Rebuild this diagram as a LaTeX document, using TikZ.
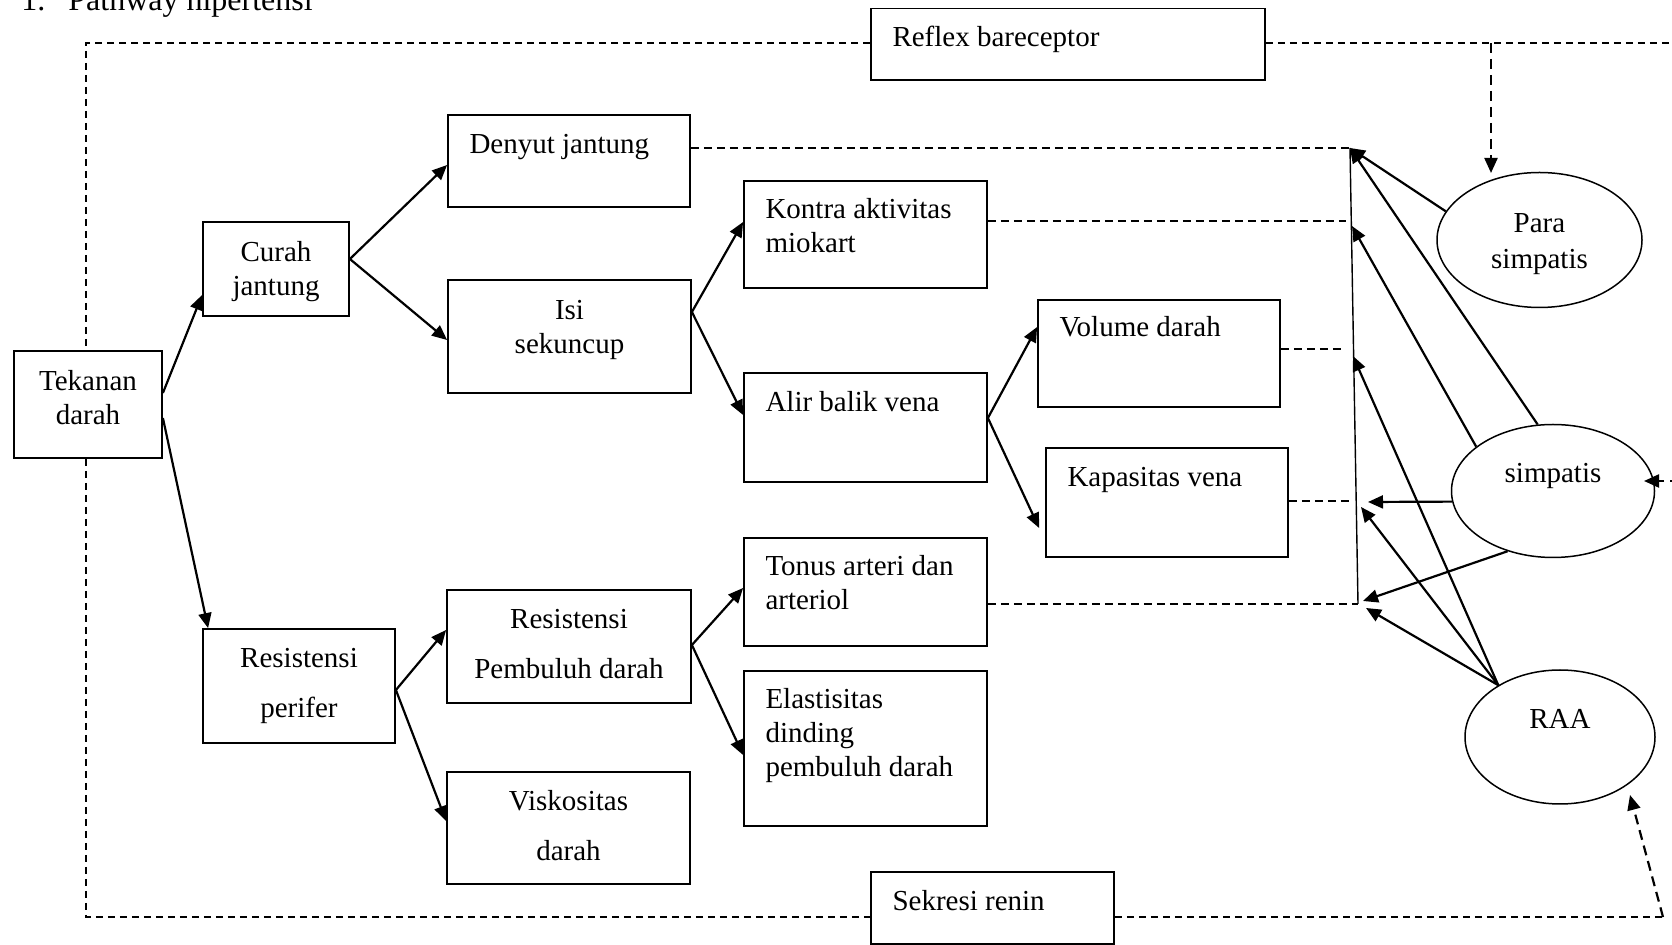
\documentclass[tikz,border=0pt]{standalone}
\usepackage{fontspec}
\setmainfont{Liberation Serif}
\usetikzlibrary{arrows.meta,calc,fit,shapes.geometric}
\begin{document}
\begin{tikzpicture}[x=0.5pt,y=-0.5pt,
  bx/.style={draw, line width=0.9pt, inner sep=0pt},
  el/.style={draw, ellipse, line width=0.75pt, inner sep=0pt},
  txt/.style={inner sep=0pt, font=\fontsize{14.5}{17}\selectfont},
  tl/.style={txt, anchor=north west, align=left},
  tc/.style={txt, anchor=north, align=center},
  arr/.style={line width=1.1pt, -{Triangle[length=7.5pt,width=6.5pt]}},
  frame/.style={line width=0.75pt, dash pattern=on 3.5pt off 2.5pt},
  dsh/.style={line width=0.75pt, dash pattern=on 4pt off 2.5pt},
  darr/.style={line width=1.1pt, dash pattern=on 5pt off 3pt, -{Triangle[length=7.5pt,width=6.5pt]}},
]
\useasboundingbox (0,0) rectangle (1672,945);

% title
\node[inner sep=0pt, anchor=base west, font=\fontsize{16}{19}\selectfont] (title) at (21,11) {1.\hspace{11.5pt}Pathway hipertensi};

% boxes
\node[bx, fit={(871,8.5)(1265,80)}] (refl) {};
\node[bx, fit={(448,115)(690,207)}] (denyut) {};
\node[bx, fit={(203,222)(349,316)}] (curah) {};
\node[bx, fit={(14,351)(162,458)}] (tek) {};
\node[bx, fit={(448,280)(691,393)}] (isi) {};
\node[bx, fit={(744,181)(987,288)}] (kontra) {};
\node[bx, fit={(744,373)(987,482)}] (alir) {};
\node[bx, fit={(1038,300)(1280,407)}] (volume) {};
\node[bx, fit={(1046,448)(1288,557)}] (kap) {};
\node[bx, fit={(744,538)(987,646)}] (tonus) {};
\node[bx, fit={(744,671)(987,826)}] (elast) {};
\node[bx, fit={(447,590)(691,703)}] (respd) {};
\node[bx, fit={(447,772)(690,884)}] (visko) {};
\node[bx, fit={(203,629)(395,743)}] (resper) {};
\node[bx, fit={(871,872)(1114,944)}] (sekresi) {};

% ellipses
\node[el, minimum width=102.5pt, minimum height=67.5pt] (para) at (1539.5,240) {};
\node[el, minimum width=101.5pt, minimum height=66.5pt] (simp) at (1553,491) {};
\node[el, minimum width=95pt, minimum height=67pt] (raa) at (1560,737) {};

% texts
\node[tl] (trefl) at ($(refl.north west)+(22,15)$) {\strut Reflex bareceptor};
\node[tl] (tdenyut) at ($(denyut.north west)+(22,15)$) {\strut Denyut jantung};
\node[tc] (tcurah) at ($(curah.north)+(0,16)$) {\strut Curah\\jantung};
\node[tc] (ttek) at ($(tek.north)+(0,16)$) {\strut Tekanan\\darah};
\node[tc] (tisi) at ($(isi.north)+(0,16)$) {\strut Isi\\sekuncup};
\node[tl] (tkontra) at ($(kontra.north west)+(22,14)$) {\strut Kontra aktivitas\\miokart};
\node[tl] (talir) at ($(alir.north west)+(22,15)$) {\strut Alir balik vena};
\node[tl] (tvolume) at ($(volume.north west)+(22,13)$) {\strut Volume darah};
\node[tl] (tkap) at ($(kap.north west)+(22,15)$) {\strut Kapasitas vena};
\node[tl] (ttonus) at ($(tonus.north west)+(22,14)$) {\strut Tonus arteri dan\\arteriol};
\node[tl] (telast) at ($(elast.north west)+(22,14)$) {\strut Elastisitas\\dinding\\pembuluh darah};
\node[tc] (trespd) at ($(respd.north)+(0,15)$) {\strut Resistensi\\[8pt]Pembuluh darah};
\node[tc] (tvisko) at ($(visko.north)+(0,15)$) {\strut Viskositas\\[8pt]darah};
\node[tc] (tresper) at ($(resper.north)+(0,15)$) {\strut Resistensi\\[8pt]perifer};
\node[tl] (tsekresi) at ($(sekresi.north west)+(22,15)$) {\strut Sekresi renin};
\node[tc] (tpara) at ($(para.center)+(0,-32)$) {\strut Para\\[1pt]simpatis};
\node[tc] (tsimp) at ($(simp.center)+(0,-33)$) {\strut simpatis};
\node[tc] (traa) at ($(raa.center)+(0,-33)$) {\strut RAA};

% left tree arrows
\draw[arr] ($(tek.east)+(0,-11.5)$) -- ($(curah.west)+(0,26)$);
\draw[arr] ($(tek.east)+(0,13.5)$) -- ($(resper.north west)+(6,0)$);
\draw[arr] ($(curah.east)+(0,-10)$) -- ($(denyut.west)+(0,4)$);
\draw[arr] ($(curah.east)+(0,-10)$) -- ($(isi.west)+(0,3.5)$);
\draw[arr] ($(isi.east)+(0,-24.5)$) -- ($(kontra.west)+(0,-12.5)$);
\draw[arr] ($(isi.east)+(0,-24.5)$) -- ($(alir.west)+(0,-12.5)$);
\draw[arr] ($(alir.east)+(0,-9.5)$) -- ($(volume.west)+(0,-26.5)$);
\draw[arr] ($(alir.east)+(0,-9.5)$) -- ($(kap.west)+(-6,25.5)$);
\draw[arr] ($(resper.east)+(0,4)$) -- ($(respd.west)+(0,-16.5)$);
\draw[arr] ($(resper.east)+(0,4)$) -- ($(visko.west)+(0,-7)$);
\draw[arr] ($(respd.east)+(0,-1.5)$) -- ($(tonus.west)+(0,-4)$);
\draw[arr] ($(respd.east)+(0,-1.5)$) -- ($(elast.west)+(0,6.5)$);

% collector
\coordinate (ctop) at (1350,148);
\coordinate (cbot) at (1358,604);
\coordinate (k1) at (1346,221);
\coordinate (v1) at (1343,349);
\coordinate (p1) at (1350,501);
\coordinate (t2) at (1352,226);
\coordinate (t3) at (1353,356);
\coordinate (t4) at (1368,502);
\coordinate (t5) at (1361,507);
\coordinate (t6) at (1363,601);
\coordinate (t7) at (1366,608);
\draw[line width=0.7pt] (ctop) -- (cbot);
\draw[dsh] (denyut.east |- ctop) -- (ctop);
\draw[dsh] (kontra.east |- k1) -- (k1);
\draw[dsh] (volume.east |- v1) -- (v1);
\draw[dsh] (kap.east |- p1) -- (p1);
\draw[dsh] (tonus.east |- cbot) -- (cbot);

\draw[arr] (para.163) -- (ctop);
\draw[arr] (simp.103) -- (ctop);
\draw[arr] (simp.150) -- (t2);
\draw[arr] (raa.140) -- (t3);
\draw[arr] (simp.186) -- (t4);
\draw[arr] (raa.140) -- (t5);
\draw[arr] (simp.233) -- (t6);
\draw[arr] (raa.140) -- (t7);

% frame
\coordinate (fTL) at (86,43);
\coordinate (fBL) at (86,917);
\coordinate (fBR) at (1663,917);
\coordinate (fTR) at (1680,43);
\coordinate (rtip) at (1630,795);
\coordinate (rb) at (1491,43);
\coordinate (ptip) at (1491,173);
\coordinate (fR) at (1680,481);
\coordinate (stip) at (1644,481);
\draw[frame] (refl.west |- fTL) -- (fTL) -- (tek.north -| fTL);
\draw[frame] (tek.south -| fTL) -- (fBL) -- (sekresi.west |- fBL);
\draw[frame] (sekresi.east |- fBL) -- (fBR);
\draw[frame] (refl.east |- fTL) -- (fTR);
\draw[darr] (fBR) -- (rtip);
\draw[darr] (rb) -- (ptip);
\draw[darr] (fR) -- (stip);
\end{tikzpicture}
\end{document}
